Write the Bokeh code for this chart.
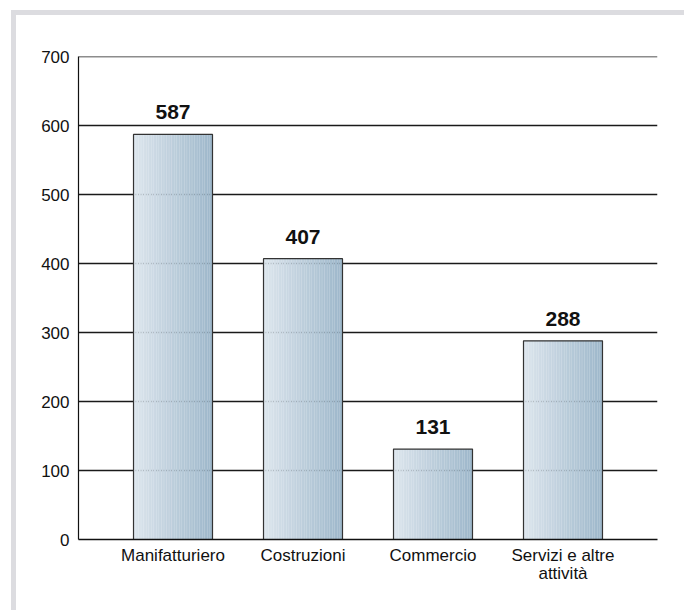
from bokeh.plotting import figure
from bokeh.models import FixedTicker, Range1d, ColumnDataSource, Span, LinearAxis
from bokeh.core.properties import value
from bokeh.embed import file_html
from bokeh.resources import INLINE

categories = ["Manifatturiero", "Costruzioni", "Commercio", "Servizi e altre"]
category_second_line = ["", "", "", "attività"]
values = [587, 407, 131, 288]
y_ticks = [0, 100, 200, 300, 400, 500, 600, 700]

FONT = "Liberation Sans"
BAR_W = 0.6077
N_STRIPS = 48
C_LEFT = (220, 229, 237)
C_RIGHT = (158, 184, 203)

p = figure(
    frame_width=579, frame_height=483,
    min_border_left=62, min_border_right=27, min_border_top=41, min_border_bottom=71,
    x_range=Range1d(-0.727, 3.727), y_range=Range1d(0, 700),
    output_backend="svg", toolbar_location=None,
    background_fill_color="white", border_fill_color="white",
)
p.styles = {
    "border-top": "5px solid #dcdce0",
    "border-left": "5px solid #dcdce0",
    "margin-left": "11px",
    "margin-top": "10px",
}
p.outline_line_color = None

# gradient bars built from strips
xs_l, xs_r, tops, cols = [], [], [], []
for i, v in enumerate(values):
    left = i - BAR_W / 2
    sw = BAR_W / N_STRIPS
    for k in range(N_STRIPS):
        t = k / (N_STRIPS - 1)
        r = int(C_LEFT[0] + (C_RIGHT[0] - C_LEFT[0]) * t)
        g = int(C_LEFT[1] + (C_RIGHT[1] - C_LEFT[1]) * t)
        b = int(C_LEFT[2] + (C_RIGHT[2] - C_LEFT[2]) * t)
        xs_l.append(left + k * sw)
        xs_r.append(left + (k + 1) * sw + 0.001)
        tops.append(v)
        cols.append("#%02x%02x%02x" % (r, g, b))
p.quad(left=xs_l, right=xs_r, bottom=0, top=tops, fill_color=cols, line_color=None)

idx = list(range(len(values)))
p.quad(left=[i - BAR_W / 2 for i in idx], right=[i + BAR_W / 2 for i in idx],
       bottom=0, top=values, fill_color=None, line_color="#333333", line_width=1.2)

src = ColumnDataSource(dict(x=idx, y=values, t=[str(v) for v in values]))
p.text(x="x", y="y", text="t", source=src, y_offset=-15,
       text_align="center", text_baseline="bottom",
       text_font=value(FONT), text_font_size="21px", text_font_style="bold",
       text_color="#111111")

# grid
p.xgrid.grid_line_color = None
p.ygrid.ticker = FixedTicker(ticks=y_ticks)
p.ygrid.grid_line_color = "#1a1a1a"
p.ygrid.grid_line_width = 1.3
p.add_layout(Span(location=y_ticks[-1], dimension="width",
                  line_color="#1a1a1a", line_width=1.3))

# y axis
p.yaxis.ticker = FixedTicker(ticks=y_ticks)
p.yaxis.major_tick_line_color = None
p.yaxis.minor_tick_line_color = None
p.yaxis.major_tick_out = 0
p.yaxis.axis_line_color = "#111111"
p.yaxis.axis_line_width = 1.2
p.yaxis.major_label_standoff = 9
p.yaxis.major_label_text_font = FONT
p.yaxis.major_label_text_font_size = "17px"
p.yaxis.major_label_text_color = "#111111"

# x axis (first line of category labels)
p.xaxis.ticker = FixedTicker(ticks=idx)
p.xaxis.major_label_overrides = {i: c for i, c in enumerate(categories)}
p.xaxis.major_tick_line_color = None
p.xaxis.minor_tick_line_color = None
p.xaxis.major_tick_out = 0
p.xaxis.axis_line_color = "#111111"
p.xaxis.axis_line_width = 1.3
p.xaxis.major_label_standoff = 6
p.xaxis.major_label_text_font = FONT
p.xaxis.major_label_text_font_size = "17px"
p.xaxis.major_label_text_color = "#111111"

# second line of the two-line category label
second_idx = [i for i, s in enumerate(category_second_line) if s]
ax2 = LinearAxis(
    ticker=FixedTicker(ticks=second_idx),
    major_label_overrides={i: category_second_line[i] for i in second_idx},
    axis_line_color=None, major_tick_line_color=None, minor_tick_line_color=None,
    major_tick_out=0, major_label_standoff=-4,
    major_label_text_font=FONT, major_label_text_font_size="17px",
    major_label_text_color="#111111",
)
p.add_layout(ax2, "below")

open("out.html", "w").write(file_html(p, INLINE))
